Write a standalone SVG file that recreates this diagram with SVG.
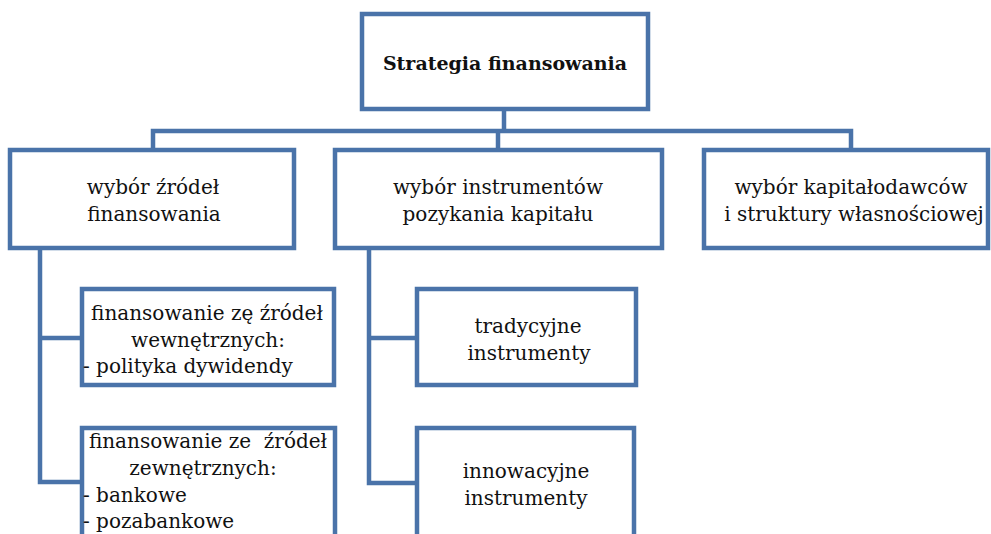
<svg xmlns="http://www.w3.org/2000/svg" width="991" height="534" viewBox="0 0 991 534">
  <style>
    .box { fill: #ffffff; stroke: #4a73a9; stroke-width: 4.5; }
    .link { fill: none; stroke: #4a73a9; stroke-width: 4.5; stroke-linejoin: miter; }
    text { font-family: "DejaVu Serif", "Liberation Serif", serif; font-size: 20px; fill: #111111; white-space: pre; }
    .c { text-anchor: middle; }
    .title { font-weight: bold; font-size: 19px; }
  </style>
  <rect width="991" height="534" fill="#ffffff"/>

  <g id="connectors">
    <path class="link" d="M504,111 V131"/>
    <path class="link" d="M153,150 V131 H851 V150"/>
    <path class="link" d="M498,131 V150"/>
    <path class="link" d="M40,248 V482 H82"/>
    <path class="link" d="M40,338 H82"/>
    <path class="link" d="M369,248 V483 H417"/>
    <path class="link" d="M369,338 H417"/>
  </g>

  <g id="root">
    <rect class="box" x="362" y="14" width="286" height="95"/>
    <text class="c title" x="505" y="70">Strategia finansowania</text>
  </g>

  <g id="zrodla">
    <rect class="box" x="10" y="150" width="284" height="98"/>
    <text class="c" x="153" y="194">wybór źródeł</text>
    <text class="c" x="154" y="221">finansowania</text>
  </g>

  <g id="instrumenty">
    <rect class="box" x="335" y="150" width="327" height="98"/>
    <text class="c" x="498" y="194">wybór instrumentów</text>
    <text class="c" x="498" y="221">pozykania kapitału</text>
  </g>

  <g id="kapitalodawcy">
    <rect class="box" x="704" y="150" width="284" height="98"/>
    <text class="c" x="851" y="194">wybór kapitałodawców</text>
    <text class="c" x="854" y="221">i struktury własnościowej</text>
  </g>

  <g id="wewnetrzne">
    <rect class="box" x="82" y="289" width="252" height="96"/>
    <text class="c" x="207" y="320">finansowanie zę źródeł</text>
    <text class="c" x="208" y="347">wewnętrznych:</text>
    <text x="83" y="373">- polityka dywidendy</text>
  </g>

  <g id="zewnetrzne">
    <rect class="box" x="82" y="428" width="253" height="120"/>
    <text class="c" x="208" y="448" xml:space="preserve">finansowanie ze  źródeł</text>
    <text class="c" x="203" y="475">zewnętrznych:</text>
    <text x="83" y="502">- bankowe</text>
    <text x="83" y="528">- pozabankowe</text>
  </g>

  <g id="tradycyjne">
    <rect class="box" x="417" y="289" width="219" height="96"/>
    <text class="c" x="528" y="333">tradycyjne</text>
    <text class="c" x="529" y="360">instrumenty</text>
  </g>

  <g id="innowacyjne">
    <rect class="box" x="417" y="428" width="217" height="120"/>
    <text class="c" x="526" y="478">innowacyjne</text>
    <text class="c" x="526" y="505">instrumenty</text>
  </g>
</svg>
